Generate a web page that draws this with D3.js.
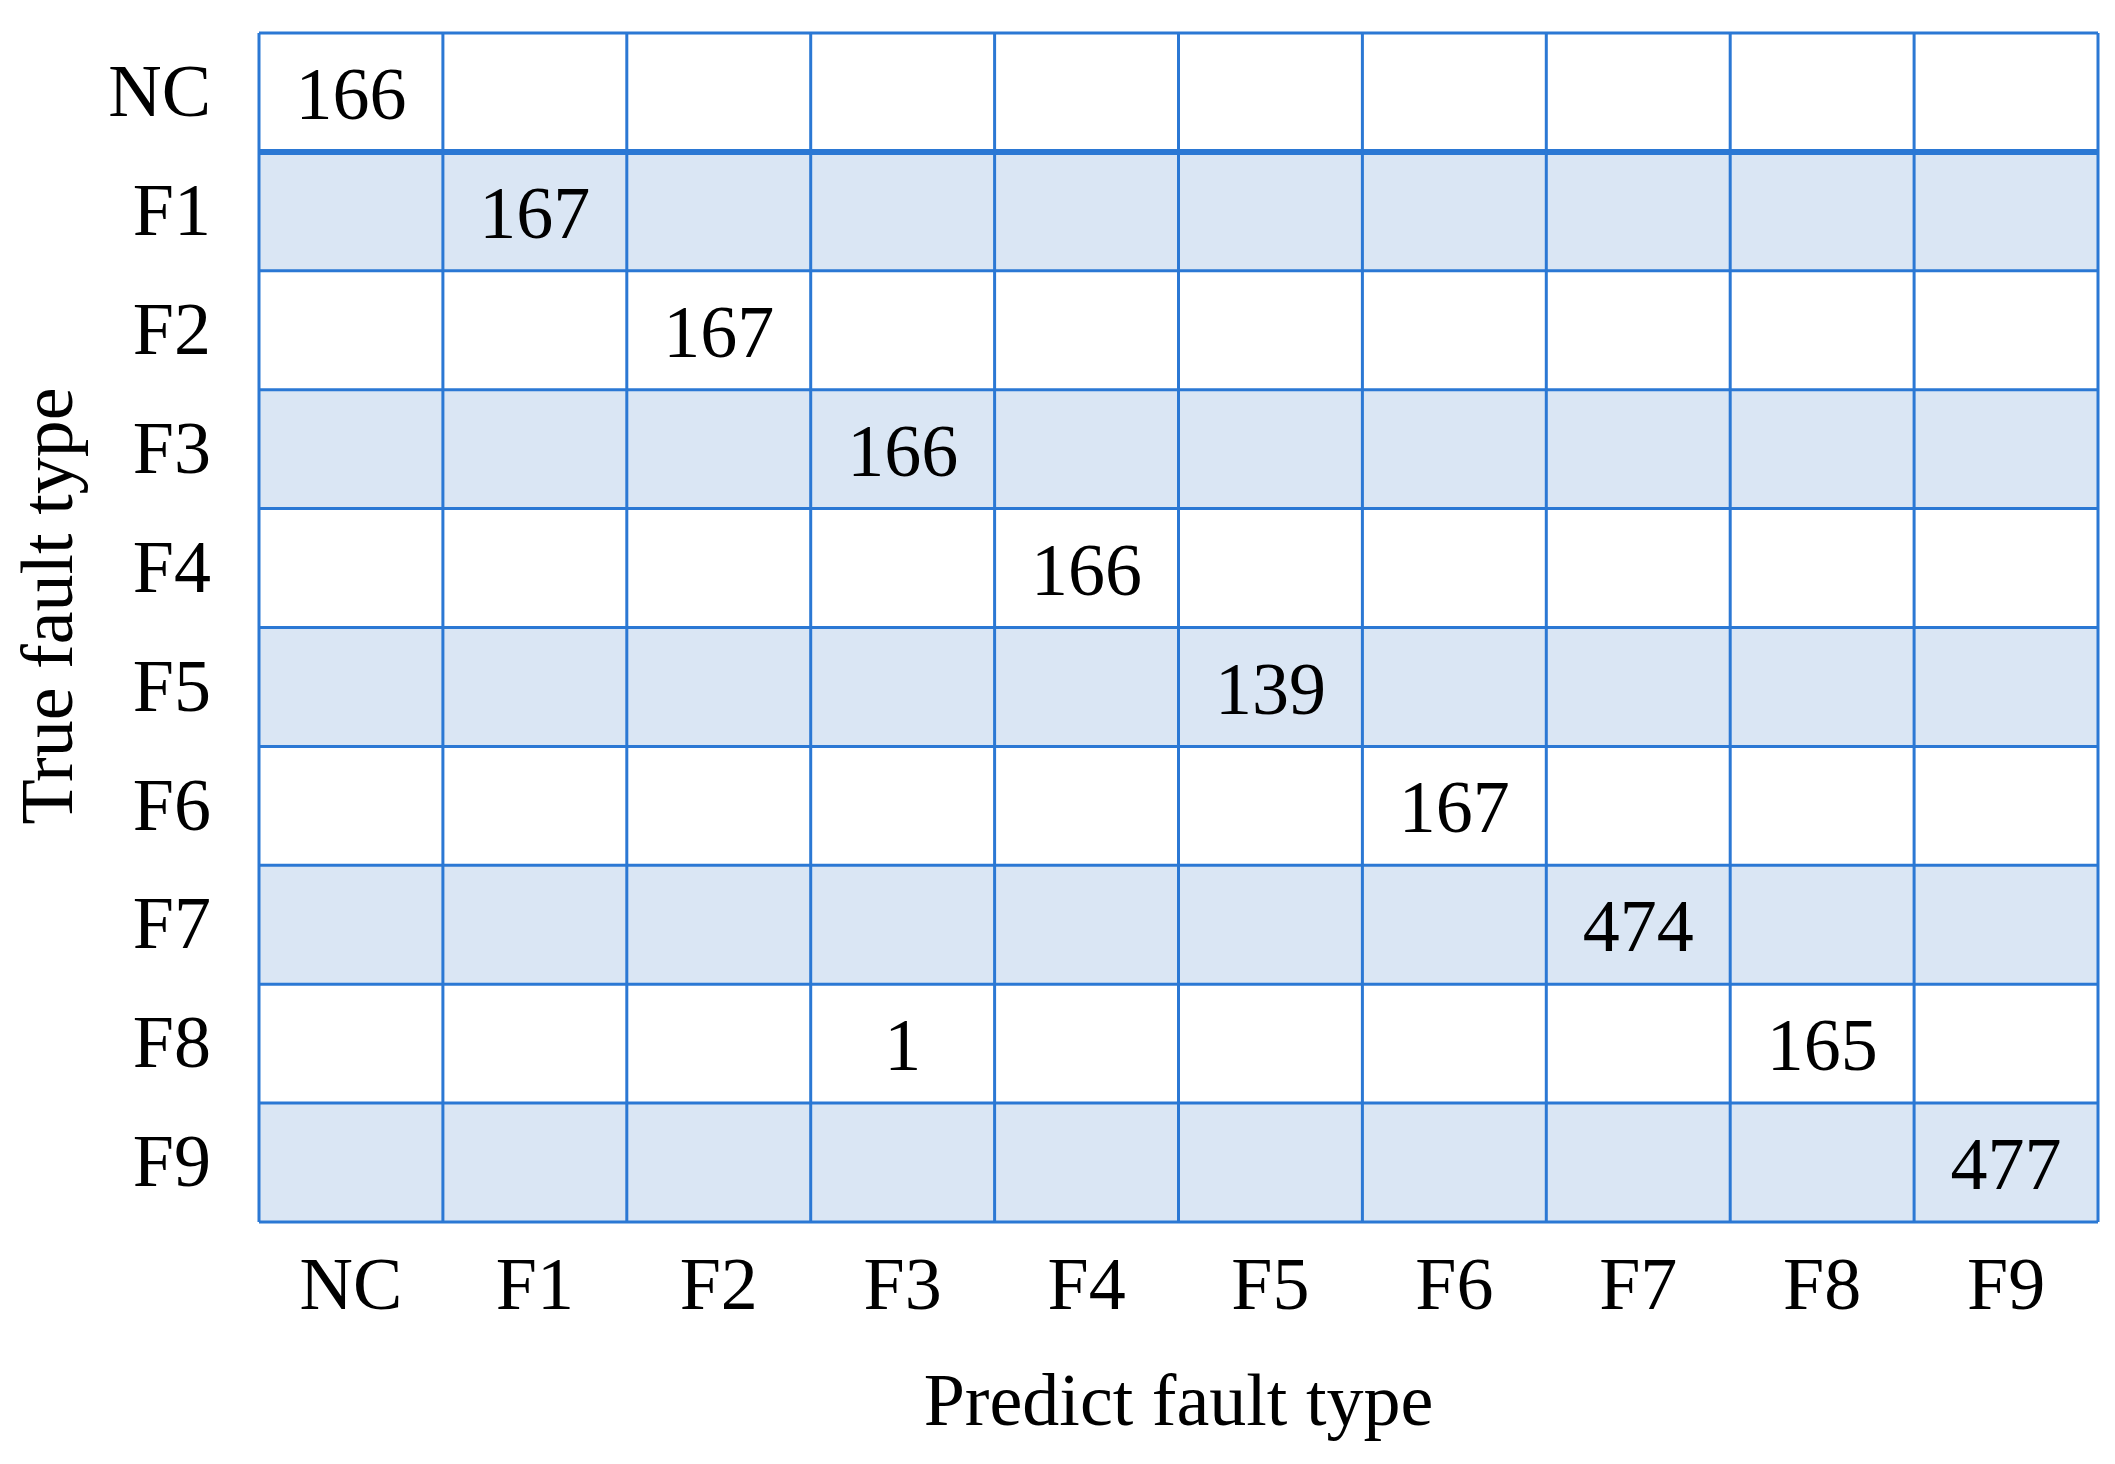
<!DOCTYPE html>
<html><head><meta charset="utf-8">
<script src="https://cdn.jsdelivr.net/npm/d3@7"></script>
<style>body{margin:0;background:#fff}</style></head>
<body><svg id="c" width="2115" height="1464"></svg>
<script>
const categories = ["NC","F1","F2","F3","F4","F5","F6","F7","F8","F9"];
// [trueIndex, predictIndex, count]
const trueIdx =    [0,1,2,3,4,5,6,7,8,8,9];
const predIdx =    [0,1,2,3,4,5,6,7,3,8,9];
const counts =     [166,167,167,166,166,139,167,474,1,165,477];

const svg = d3.select("#c");
const L=259, R=2098, T=33, B=1222;
const x = d3.scaleBand().domain(categories).range([L,R]);
const y = d3.scaleBand().domain(categories).range([T,B]);
const lineC = "#2b78d4", fillC = "#dae6f4";
const font = "'Liberation Serif','Times New Roman',serif";
const fs = 74;

svg.append("g").selectAll("rect").data(categories).join("rect")
  .attr("x",L).attr("y",d=>y(d)).attr("width",R-L).attr("height",y.bandwidth())
  .attr("fill",(d,i)=>i%2? fillC:"#fff");

const g = svg.append("g").attr("stroke",lineC).attr("stroke-width",3);
categories.forEach((c,i)=>{
  g.append("line").attr("x1",x(c)).attr("x2",x(c)).attr("y1",T).attr("y2",B);
  g.append("line").attr("y1",y(c)).attr("y2",y(c)).attr("x1",L).attr("x2",R)
    .attr("stroke-width", i==1?6:3);
});
g.append("line").attr("x1",R).attr("x2",R).attr("y1",T).attr("y2",B);
g.append("line").attr("y1",B).attr("y2",B).attr("x1",L).attr("x2",R);

svg.append("g").selectAll("text").data(counts).join("text")
  .attr("x",(d,i)=>x(categories[predIdx[i]])+x.bandwidth()/2)
  .attr("y",(d,i)=>y(categories[trueIdx[i]])+y.bandwidth()/2)
  .attr("dy","0.36em").attr("text-anchor","middle")
  .attr("font-family",font).attr("font-size",fs).text(d=>d);

const xa = svg.append("g").attr("transform",`translate(0,${B})`)
  .call(d3.axisBottom(x).tickSize(0).tickPadding(34));
xa.select(".domain").remove();
xa.selectAll("text").attr("font-family",font).attr("font-size",fs).attr("fill","#000");

const ya = svg.append("g").attr("transform",`translate(${L},0)`)
  .call(d3.axisLeft(y).tickSize(0).tickPadding(48));
ya.select(".domain").remove();
ya.selectAll("text").attr("font-family",font).attr("font-size",fs).attr("fill","#000");

svg.append("text").attr("x",(L+R)/2).attr("y",1425).attr("text-anchor","middle")
  .attr("font-family",font).attr("font-size",fs).text("Predict fault type");
svg.append("text").attr("transform","translate(72,606) rotate(-90)").attr("text-anchor","middle")
  .attr("font-family",font).attr("font-size",fs).text("True fault type");
</script></body></html>
